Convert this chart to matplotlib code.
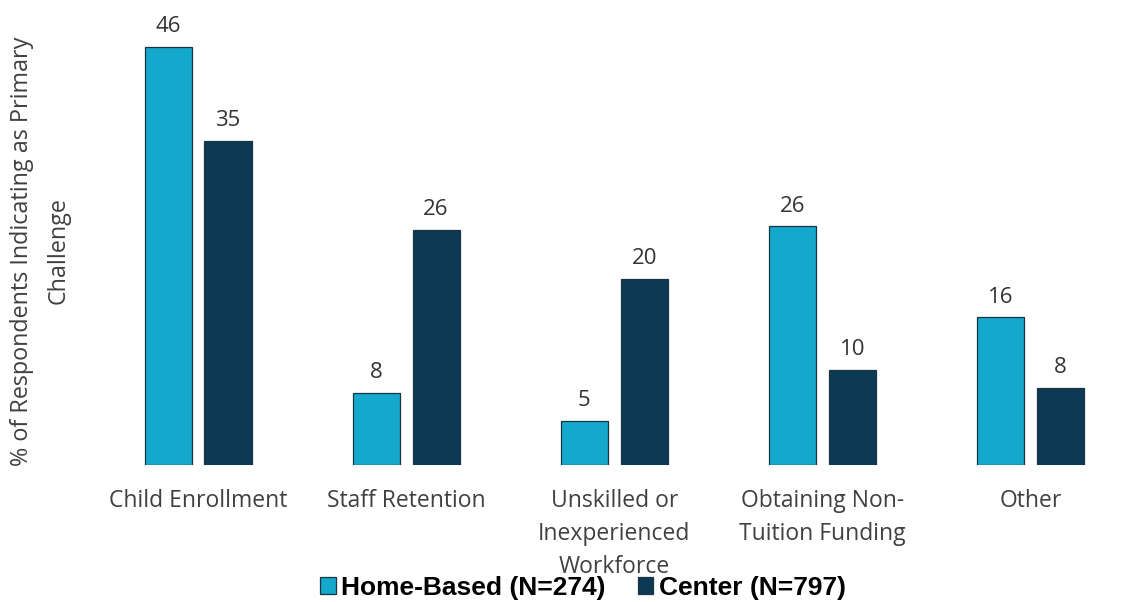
import matplotlib.pyplot as plt
import numpy as np

categories = [
    "Child Enrollment",
    "Staff Retention",
    "Unskilled or\nInexperienced\nWorkforce",
    "Obtaining Non-\nTuition Funding",
    "Other",
]
# bar heights; labels show the rounded percent
home_based = [45.6, 7.9, 4.8, 26.0, 16.1]
center = [35.3, 25.6, 20.3, 10.4, 8.4]
series_labels = ["Home-Based (N=274)", "Center (N=797)"]

HOME_COLOR = "#14a8cc"
CENTER_COLOR = "#0c3a54"
EDGE_COLOR = "#1c3440"
TEXT_COLOR = "#404040"

plt.rcParams["font.family"] = ["Open Sans", "DejaVu Sans"]

fig = plt.figure(figsize=(11.3, 6.02), dpi=100)
ax = fig.add_axes([94 / 1130, 137 / 602, 1030 / 1130, 456 / 602])

x = np.arange(len(categories))
width = 0.226
offset = 0.144

b1 = ax.bar(x - offset, home_based, width, color=HOME_COLOR, edgecolor=EDGE_COLOR,
            linewidth=0.9, label=series_labels[0])
b2 = ax.bar(x + offset, center, width, color=CENTER_COLOR, edgecolor=EDGE_COLOR,
            linewidth=0.9, label=series_labels[1])

for bars in (b1, b2):
    for rect in bars:
        h = rect.get_height()
        ax.annotate(f"{round(h)}", (rect.get_x() + rect.get_width() / 2, h),
                    xytext=(0, 7), textcoords="offset points",
                    ha="center", va="bottom", fontsize=16, color="#333333")

ax.set_xlim(-0.5, 4.45)
ax.set_ylim(0, 49.7)
ax.set_xticks(x)
ax.set_xticklabels(categories, fontsize=16.5, color=TEXT_COLOR, linespacing=1.5, va="top")
ax.tick_params(axis="x", length=0, pad=17.5)
ax.set_yticks([])
for s in ax.spines.values():
    s.set_visible(False)

fig.text(40 / 1130, 1 - 251 / 602, "% of Respondents Indicating as Primary\nChallenge",
         rotation=90, ha="center", va="center", fontsize=16.8, color=TEXT_COLOR,
         linespacing=1.7)

leg = fig.legend(handles=[b1, b2], labels=series_labels, loc="center",
                 bbox_to_anchor=(583 / 1130, 1 - 588 / 602), ncol=2, frameon=False,
                 prop={"family": "Liberation Sans", "weight": "bold", "size": 19},
                 handlelength=0.6, handleheight=0.6, borderpad=0.1,
                 handletextpad=0.2, columnspacing=1.2)

fig.savefig("out.png", dpi=100)
